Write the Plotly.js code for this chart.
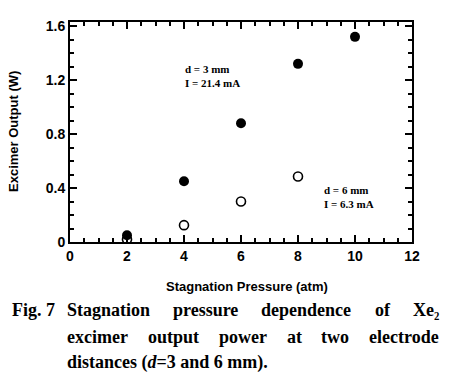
<!DOCTYPE html>
<html>
<head>
<meta charset="utf-8">
<script src="https://cdn.plot.ly/plotly-3.0.1.min.js"></script>
<style>html,body{margin:0;padding:0;background:#fff;}#chart{width:455px;height:384px;}</style>
</head>
<body>
<div id="chart"></div>
<script>
var pressure = [2, 4, 6, 8, 10];
var output3mm = [0.05, 0.45, 0.88, 1.32, 1.52];
var pressure6 = [2, 4, 6, 8];
var output6mm = [0.02, 0.125, 0.30, 0.485];
var xTickStep = 2, xMinorStep = 0.5;
var yTickStep = 0.4, yMinorStep = 0.1;
var xRange = [0, 12], yRange = [0, 1.63];

var traces = [
  {x: pressure6, y: output6mm, mode: 'markers', type: 'scatter',
   marker: {symbol: 'circle-open', size: 9, color: '#000', line: {width: 1.6, color: '#000'}}},
  {x: pressure, y: output3mm, mode: 'markers', type: 'scatter',
   marker: {symbol: 'circle', size: 10, color: '#000'}}
];

var L = 70, R = 412, T = 22, B = 242;
function px(x){ return (x - L) / (R - L); }
function py(y){ return (B - y) / (B - T); }

var axFont = {family: 'Arial, Liberation Sans, sans-serif', size: 14, color: '#000', weight: 'bold'};
var titleFont = {family: 'Arial, Liberation Sans, sans-serif', size: 13, color: '#000', weight: 'bold'};
var layout = {
  width: 455, height: 384,
  margin: {l: L, r: 455 - R, t: T, b: 384 - B},
  showlegend: false,
  xaxis: {
    range: xRange, dtick: xTickStep, ticks: 'inside', ticklen: 7, tickwidth: 2, tickcolor: '#000',
    showline: true, linewidth: 2, linecolor: '#000', mirror: 'ticks', showgrid: false, zeroline: false,
    tickfont: axFont,
    minor: {dtick: xMinorStep, ticks: 'inside', ticklen: 4, tickwidth: 1.5, tickcolor: '#000'}
  },
  yaxis: {
    range: yRange, dtick: yTickStep, ticks: 'inside', ticklen: 7, tickwidth: 2, tickcolor: '#000',
    showline: true, linewidth: 2, linecolor: '#000', mirror: 'ticks', showgrid: false, zeroline: false,
    tickfont: axFont,
    minor: {dtick: yMinorStep, ticks: 'inside', ticklen: 4, tickwidth: 1.5, tickcolor: '#000'}
  },
  annotations: [
    {xref: 'paper', yref: 'paper', x: px(247), y: py(286), xanchor: 'center', yanchor: 'middle', showarrow: false,
     text: 'Stagnation Pressure (atm)', font: titleFont},
    {xref: 'paper', yref: 'paper', x: px(13), y: py(132), xanchor: 'center', yanchor: 'middle', showarrow: false, textangle: -90,
     text: 'Excimer Output (W)', font: titleFont},
    {xref: 'paper', yref: 'paper', x: px(183), y: py(76), xanchor: 'left', yanchor: 'middle', showarrow: false, align: 'left',
     text: 'd = 3 mm<br>I = 21.4 mA', font: {family: 'Liberation Serif, Times New Roman, serif', size: 11, color: '#000', weight: 'bold'}},
    {xref: 'paper', yref: 'paper', x: px(322), y: py(197), xanchor: 'left', yanchor: 'middle', showarrow: false, align: 'left',
     text: 'd = 6 mm<br>I = 6.3 mA', font: {family: 'Liberation Serif, Times New Roman, serif', size: 11, color: '#000', weight: 'bold'}}
  ]
};

// caption, justified between x=65 and x=437 by measuring words
var capSize = 18;
var capFont = {family: 'Liberation Serif, Times New Roman, serif', size: capSize, color: '#000', weight: 'bold'};
var ctx = document.createElement('canvas').getContext('2d');
ctx.font = 'bold ' + capSize + 'px "Liberation Serif"';
var capLines = [
  {y: 310, justify: true, words: ['Stagnation', 'pressure', 'dependence', 'of', 'Xe\u2082']},
  {y: 337, justify: true, words: ['excimer', 'output', 'power', 'at', 'two', 'electrode']},
  {y: 362, justify: false, words: ['distances (<i>d</i>=3 and 6 mm).']}
];
layout.annotations.push({xref: 'paper', yref: 'paper', x: px(10), y: py(310), xanchor: 'left', yanchor: 'middle',
  showarrow: false, text: 'Fig. 7', font: capFont});
capLines.forEach(function(l){
  var x0 = 65, x1 = 437;
  var widths = l.words.map(function(w){ return ctx.measureText(w.replace(/<[^>]+>/g, '')).width; });
  var total = widths.reduce(function(a, b){ return a + b; }, 0);
  var gap = l.justify && l.words.length > 1 ? (x1 - x0 - total) / (l.words.length - 1) : 0;
  var cx = x0;
  l.words.forEach(function(w, i){
    layout.annotations.push({xref: 'paper', yref: 'paper', x: px(cx), y: py(l.y),
      xanchor: 'left', yanchor: 'middle', showarrow: false, text: w, font: capFont});
    cx += widths[i] + gap;
  });
});

Plotly.newPlot('chart', traces, layout, {displayModeBar: false});
</script>
</body>
</html>
